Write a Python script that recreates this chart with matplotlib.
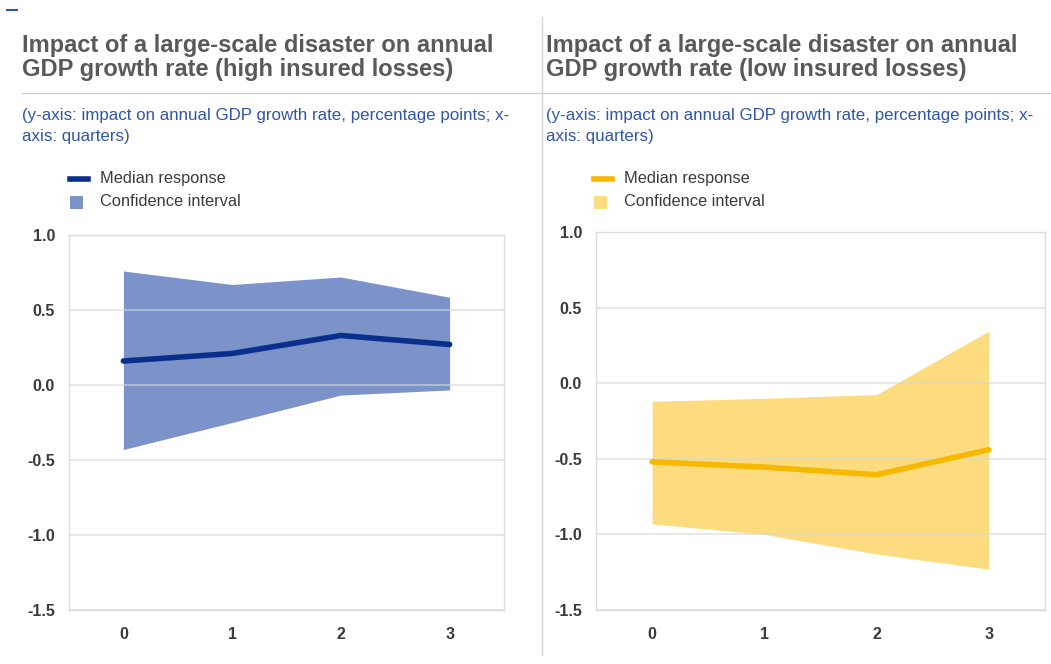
import matplotlib
matplotlib.use("Agg")
import matplotlib.pyplot as plt
from matplotlib.lines import Line2D
from matplotlib.patches import Rectangle

plt.rcParams['font.family'] = ['Liberation Sans', 'DejaVu Sans']

# Quarters after the disaster
quarters = [0, 1, 2, 3]

# High insured losses: median response and confidence band
high_median = [0.16, 0.21, 0.33, 0.27]
high_upper = [0.76, 0.67, 0.72, 0.585]
high_lower = [-0.43, -0.25, -0.067, -0.033]

# Low insured losses: median response and confidence band
low_median = [-0.52, -0.555, -0.605, -0.44]
low_upper = [-0.12, -0.10, -0.075, 0.345]
low_lower = [-0.93, -1.0, -1.13, -1.23]

yticks = [1.0, 0.5, 0.0, -0.5, -1.0, -1.5]
titles = [["Impact of a large-scale disaster on annual",
           "GDP growth rate (high insured losses)"],
          ["Impact of a large-scale disaster on annual",
           "GDP growth rate (low insured losses)"]]
subtitle = ["(y-axis: impact on annual GDP growth rate, percentage points; x-",
            "axis: quarters)"]
legend_labels = ["Median response", "Confidence interval"]

W, H = 1051, 664
fig = plt.figure(figsize=(W / 100, H / 100), dpi=100)


def fx(px):
    return px / W


def fy(py):
    return 1 - py / H


title_col = "#595959"
sub_col = "#2f56a8"
text_col = "#3a3a3a"
grid_col = "#d6d6d6"

panels = [
    dict(ax_px=(69, 235, 504, 610), x0=22, median=high_median, upper=high_upper,
         lower=high_lower, line="#0a2e8c", fill="#7b93c9", title=titles[0]),
    dict(ax_px=(596, 232, 1045, 610), x0=546, median=low_median, upper=low_upper,
         lower=low_lower, line="#f7b800", fill="#fddc80", title=titles[1]),
]

for p in panels:
    l, t, r, b = p["ax_px"]
    ax = fig.add_axes([fx(l), fy(b), fx(r - l), (b - t) / H])
    ax.fill_between(quarters, p["lower"], p["upper"], color=p["fill"], lw=0, zorder=1)
    ax.plot(quarters, p["median"], color=p["line"], lw=4, solid_capstyle='round', zorder=3)
    ax.set_xlim(-0.5, 3.5)
    ax.set_ylim(-1.5, 1.0)
    ax.set_yticks(yticks)
    ax.set_yticklabels([f"{v:.1f}" for v in yticks])
    ax.set_xticks(quarters)
    for v in yticks:
        ax.axhline(v, color=grid_col, lw=1.1, alpha=0.75, zorder=2)
    for s in ax.spines.values():
        s.set_color("#dcdcdc")
        s.set_linewidth(1.0)
    ax.tick_params(length=0, labelsize=11.5, labelcolor=text_col, pad=10)
    ax.tick_params(axis='x', pad=12)
    for lab in ax.get_xticklabels() + ax.get_yticklabels():
        lab.set_fontweight('bold')

    x0 = p["x0"]
    for line, base in zip(p["title"], (52, 76)):
        fig.text(fx(x0), fy(base), line, fontsize=17, fontweight='bold',
                 color=title_col, va='baseline', ha='left')
    for line, base in zip(subtitle, (120, 141)):
        fig.text(fx(x0), fy(base), line, fontsize=12.2, color=sub_col,
                 va='baseline', ha='left')

    # Legend: median line swatch and confidence-band square
    fig.add_artist(Line2D([fx(x0 + 48), fx(x0 + 66)], [fy(179), fy(179)],
                          color=p["line"], lw=4))
    fig.add_artist(Rectangle((fx(x0 + 48), fy(209)), fx(13), 13 / H,
                             facecolor=p["fill"], edgecolor='none'))
    for lab, yc in zip(legend_labels, (179, 202)):
        fig.text(fx(x0 + 78), fy(yc), lab, fontsize=11.8, color=text_col,
                 va='center', ha='left')

# Separator lines under the titles and between the panels
fig.add_artist(Line2D([fx(22), fx(541)], [fy(93), fy(93)], color="#cfcfcf", lw=1))
fig.add_artist(Line2D([fx(541), fx(1051)], [fy(93), fy(93)], color="#cfcfcf", lw=1))
fig.add_artist(Line2D([fx(541.5), fx(541.5)], [fy(17), fy(655)], color="#d4d4d4", lw=1))
fig.add_artist(Line2D([fx(7), fx(17)], [fy(10), fy(10)], color="#2f56a8", lw=1.5))

fig.savefig("out.png", dpi=100, facecolor="white")
